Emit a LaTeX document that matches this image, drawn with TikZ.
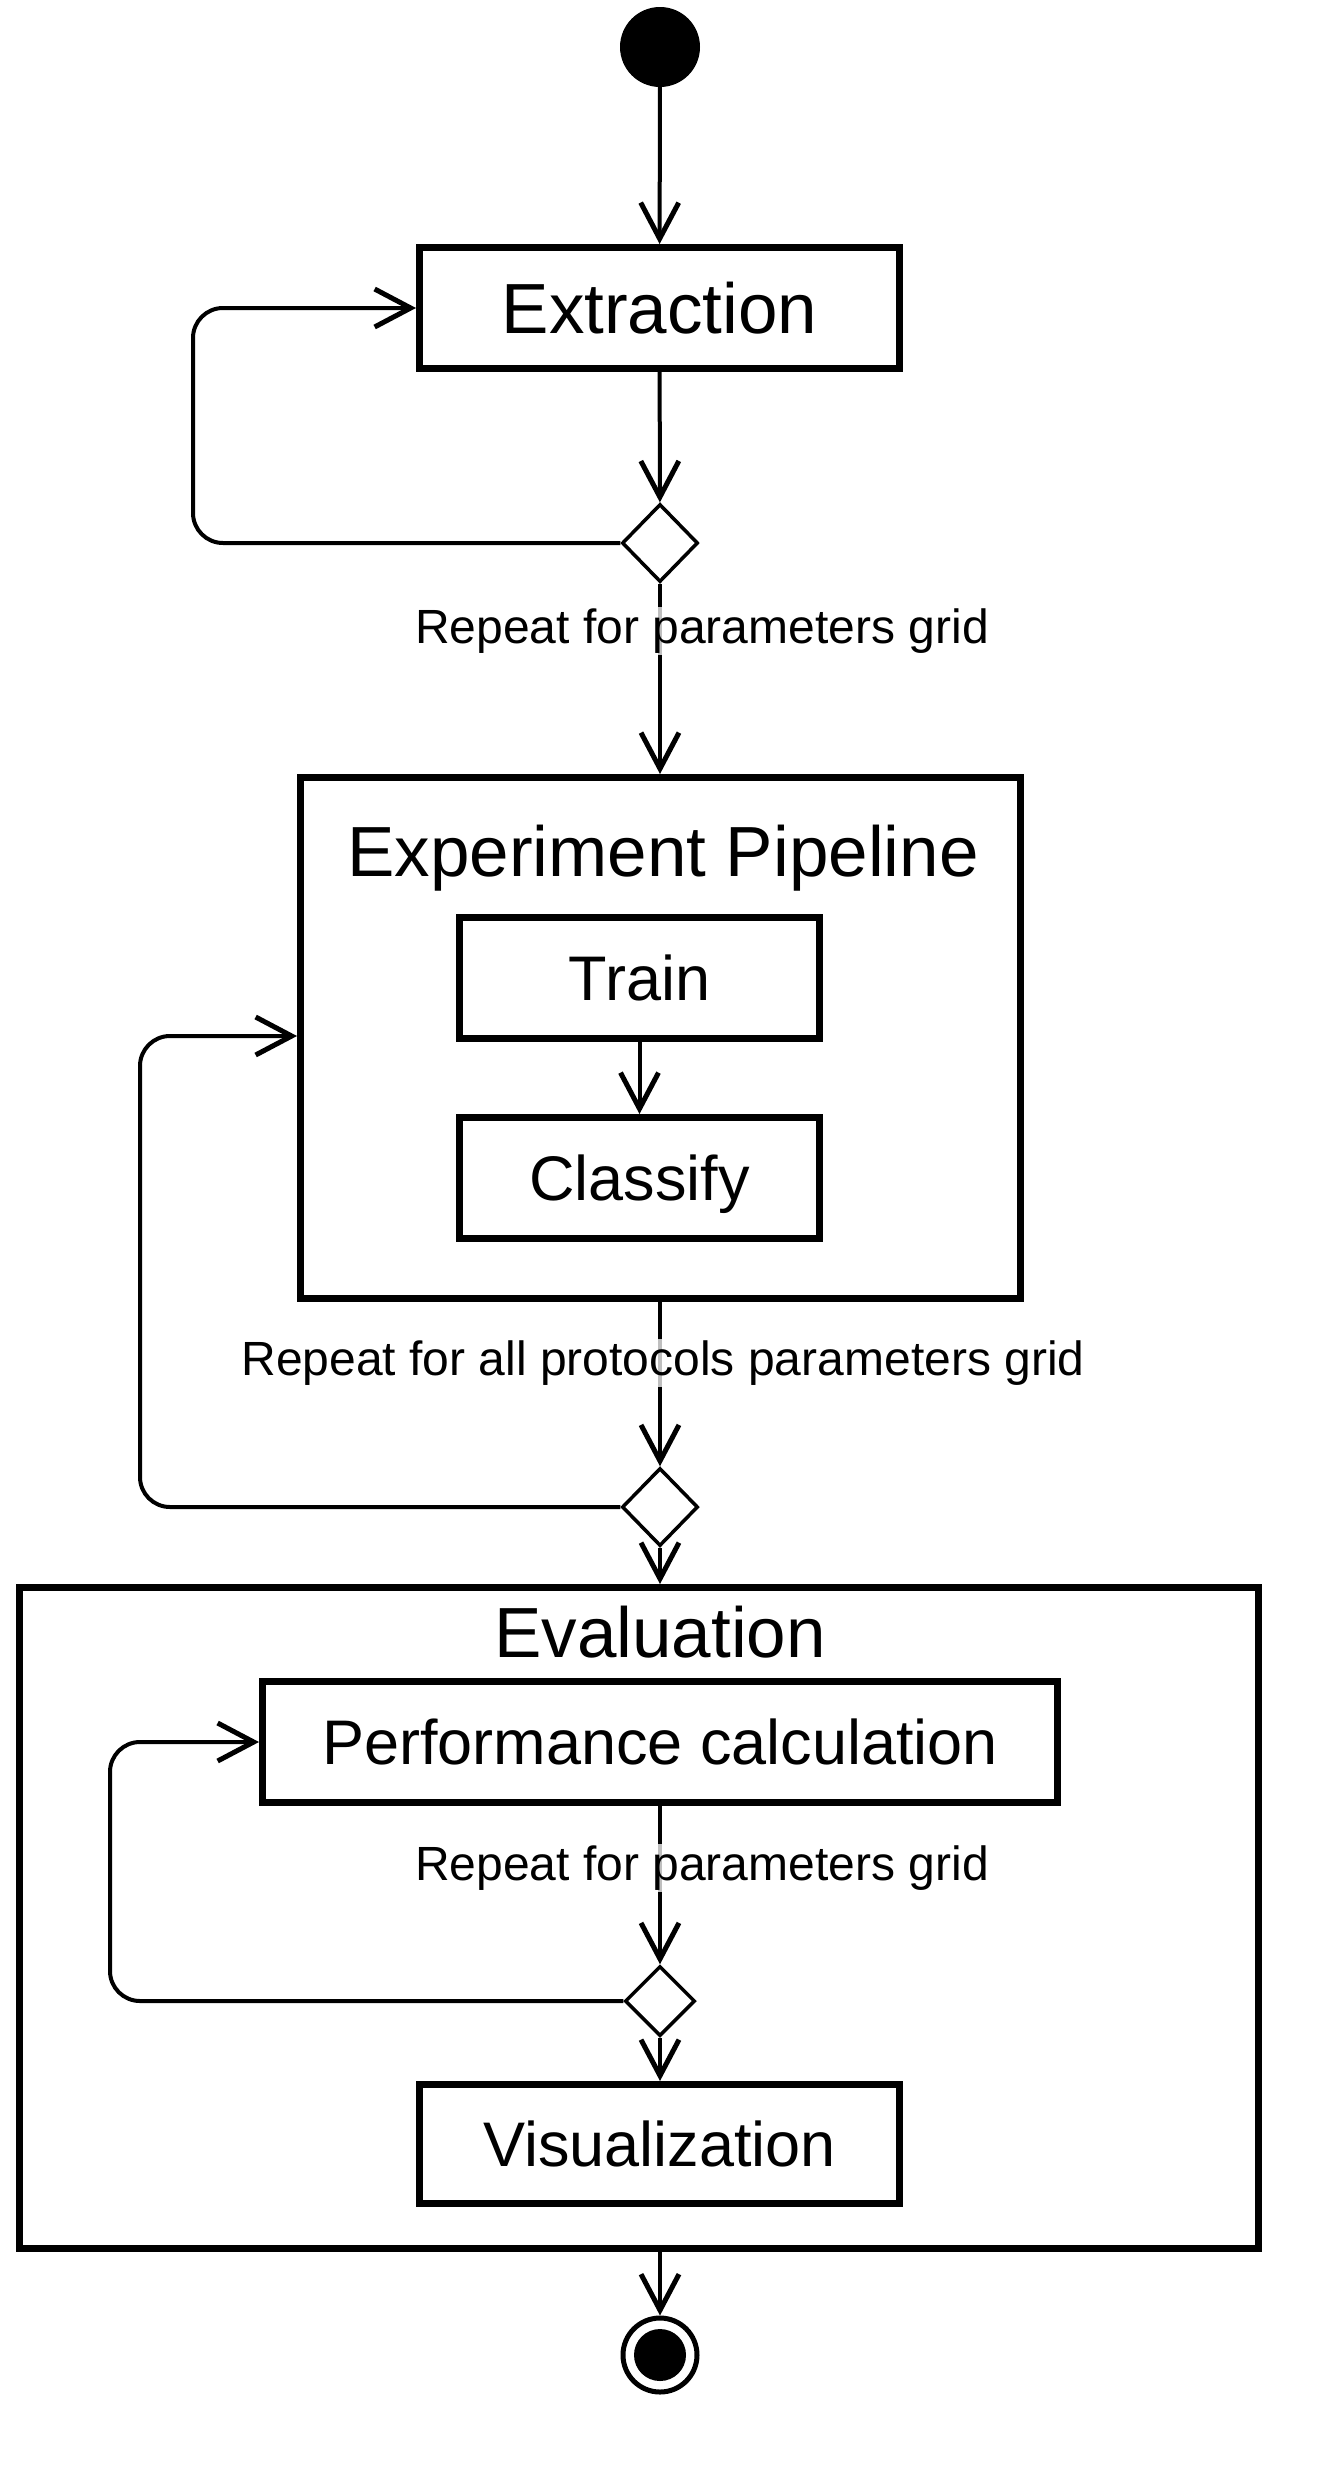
\documentclass[tikz,border=0pt]{standalone}
\usepackage{fontspec}
\setmainfont{Liberation Sans}
\usetikzlibrary{arrows.meta,shapes.geometric,calc}
\begin{document}
\begin{tikzpicture}[x=1pt,y=-1pt,
  tip/.style={-{Straight Barb[length=36pt,width=38pt,line width=5pt]}},
  conn/.style={line width=4pt,tip},
  box/.style={draw,line width=7pt,inner sep=0pt},
  bigtxt/.style={font=\fontsize{71}{80}\selectfont,text height=51pt,text depth=0pt},
  midtxt/.style={font=\fontsize{63}{72}\selectfont,text height=45pt,text depth=0pt},
  lbl/.style={font=\fontsize{48}{56}\selectfont,fill=white,fill opacity=0.75,text opacity=1,inner sep=2pt},
  decision/.style={diamond,draw,line width=3.5pt,fill=white,inner sep=0pt,minimum width=76pt,minimum height=78pt},
  loop/.style={line width=4pt,rounded corners=30pt,tip}
]
\useasboundingbox (0,0) rectangle (1340,2476);

% start
\node[circle,fill=black,inner sep=0pt,minimum size=80pt] (start) at (660,47) {};
% extraction
\node[box,bigtxt,minimum width=480pt,minimum height=121pt] (ext) at (659.5,308) {Extraction};
\node[decision] (d1) at (660,543) {};
\coordinate (lx1) at (193,0);

% experiment pipeline
\node[box,minimum width=720pt,minimum height=521pt] (pipe) at (660.5,1038) {};
\node[bigtxt] (pipetitle) at (663,851) {Experiment Pipeline};
\node[box,midtxt,minimum width=360pt,minimum height=121pt] (train) at (639.5,978) {Train};
\node[box,midtxt,minimum width=360pt,minimum height=121pt] (classify) at (639.5,1178) {Classify};
\node[decision] (d2) at (660,1507) {};
\coordinate (lx2) at (140,0);
\coordinate (in2) at (0,1036);

% evaluation
\node[box,minimum width=1239pt,minimum height=661pt] (eval) at (639,1918) {};
\node[bigtxt] (evaltitle) at (660,1632) {Evaluation};
\node[box,midtxt,minimum width=795pt,minimum height=121pt] (perf) at (660,1742) {Performance calculation};
\node[decision,minimum width=70pt,minimum height=70pt] (d3) at (660,2001) {};
\coordinate (lx3) at (110,0);
\node[box,midtxt,minimum width=480pt,minimum height=119pt] (vis) at (659.5,2144) {Visualization};

% end
\node[circle,draw,line width=5pt,fill=white,inner sep=0pt,minimum size=74pt] (end) at (660,2355) {};
\node[circle,fill=black,inner sep=0pt,minimum size=52pt] (endin) at (end.center) {};

% connectors
\draw[conn] (start) -- (ext);
\draw[conn] (ext) -- (d1);
\draw[loop] (d1.west) -- (d1.west -| lx1) |- (ext.west);
\draw[conn] (d1) -- (d1 |- pipe.north);
\node[lbl] (l1) at (702,631) {Repeat for parameters grid};

\draw[conn] (train) -- (classify);
\draw[conn] (pipe.south -| d2) -- (d2);
\node[lbl] (l2) at (663,1363) {Repeat for all protocols parameters grid};
\draw[loop] (d2.west) -- (d2.west -| lx2) |- (pipe.west |- in2);
\draw[conn] (d2) -- (d2 |- eval.north);

\draw[conn] (perf.south -| d3) -- (d3);
\node[lbl] (l3) at (702,1868) {Repeat for parameters grid};
\draw[loop] (d3.west) -- (d3.west -| lx3) |- (perf.west);
\draw[conn] (d3) -- (d3 |- vis.north);

\draw[conn] (eval.south -| end) -- (end);
\end{tikzpicture}
\end{document}
